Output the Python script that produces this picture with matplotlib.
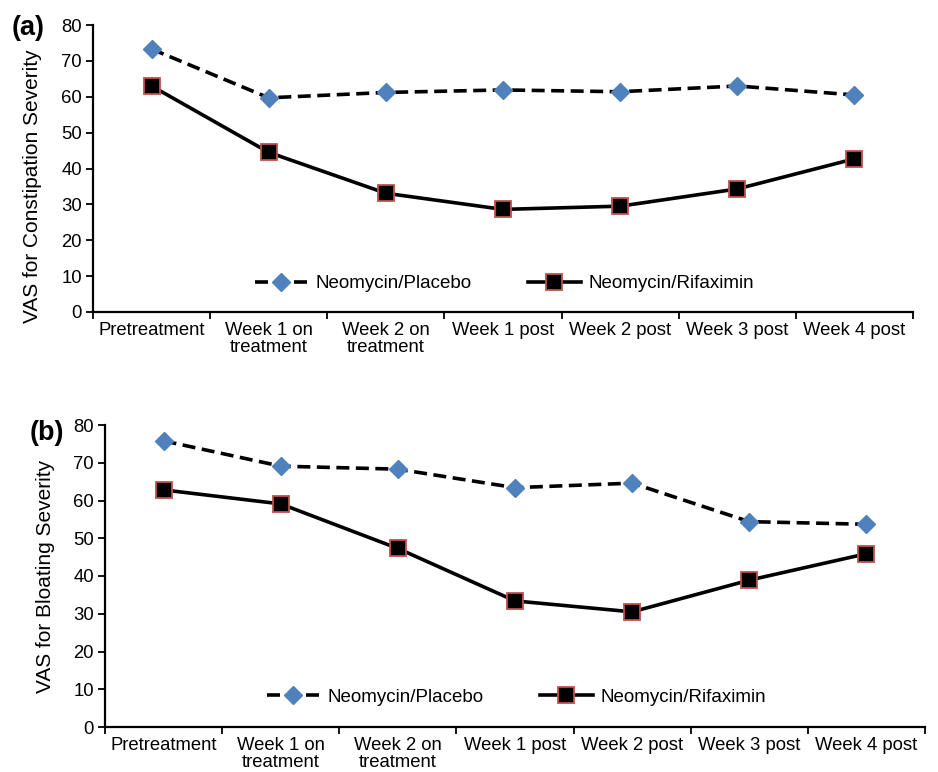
import numpy as np
import matplotlib
matplotlib.use("Agg")
import matplotlib.pyplot as plt

plt.rcParams['font.family'] = ['Liberation Sans', 'DejaVu Sans']

categories = ["Pretreatment", "Week 1 on\ntreatment", "Week 2 on\ntreatment",
              "Week 1 post", "Week 2 post", "Week 3 post", "Week 4 post"]

constip_placebo = [73.3, 59.7, 61.2, 61.9, 61.4, 63.0, 60.5]
constip_rifax = [63.0, 44.5, 33.1, 28.6, 29.5, 34.3, 42.7]

bloat_placebo = [75.8, 69.1, 68.3, 63.4, 64.6, 54.4, 53.7]
bloat_rifax = [62.8, 59.1, 47.3, 33.4, 30.5, 38.9, 45.9]

panels = [
    ("(a)", "VAS for Constipation Severity", constip_placebo, constip_rifax,
     [93/938, 1-312/772, 820/938, 287/772], (12/938, 1-28/772), (-0.062, 0.44)),
    ("(b)", "VAS for Bloating Severity", bloat_placebo, bloat_rifax,
     [105/938, 1-727/772, 820/938, 302/772], (30/938, 1-433/772), (-0.061, 0.5)),
]

fig = plt.figure(figsize=(9.38, 7.72), dpi=100)
x = np.arange(len(categories)) + 0.5

for tag, ylabel, plac, rifx, rect, tagpos, ylab_xy in panels:
    ax = fig.add_axes(rect)
    ax.plot(x, plac, color='black', lw=2.6, ls=(0, (3.6, 1.8)),
            marker='D', ms=9, mfc='#4F81BD', mec='#4F81BD',
            label='Neomycin/Placebo')
    ax.plot(x, rifx, color='black', lw=2.6, ls='-',
            marker='s', ms=11, mfc='black', mec='#C0504D', mew=1.3,
            label='Neomycin/Rifaximin')
    ax.set_xlim(0, len(categories))
    ax.set_ylim(0, 80)
    ax.set_yticks(np.arange(0, 81, 10))
    ax.set_xticks(np.arange(0, len(categories) + 1))
    ax.set_xticklabels([])
    ax.set_xticks(x, minor=True)
    ax.set_xticklabels(categories, minor=True, fontsize=13.3, linespacing=1.0)
    ax.tick_params(axis='x', which='minor', length=0, pad=7)
    ax.tick_params(axis='x', which='major', length=5, width=1.3, direction='out')
    ax.tick_params(axis='y', length=5, width=1.3, direction='out', labelsize=13.3, pad=3)
    for s in ['top', 'right']:
        ax.spines[s].set_visible(False)
    for s in ['left', 'bottom']:
        ax.spines[s].set_linewidth(1.6)
    ax.set_ylabel(ylabel, fontsize=15)
    ax.yaxis.set_label_coords(*ylab_xy)
    ax.legend(loc='center', bbox_to_anchor=(0.502, 0.098), ncol=2, frameon=False,
              fontsize=13.5, handlelength=2.8, handletextpad=0.45, columnspacing=3.0)
    fig.text(tagpos[0], tagpos[1], tag, fontsize=19.5, fontweight='bold', va='center')

fig.savefig("out.png", dpi=100)
